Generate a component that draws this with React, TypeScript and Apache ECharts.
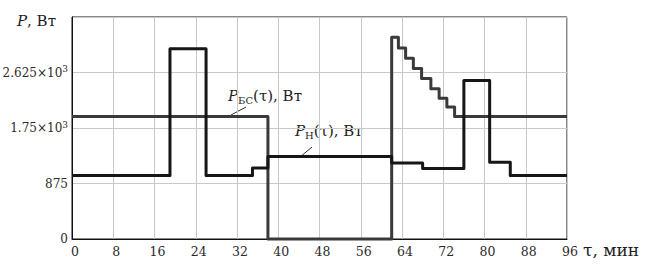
import React, { useEffect, useRef } from 'react';
import * as echarts from 'echarts';

// time, min
const xTicks = [0, 8, 16, 24, 32, 40, 48, 56, 64, 72, 80, 88, 96];
const yTickValues = [0, 875, 1750, 2625, 3500];
const yTickLabels = ['0', '875', '1.75×10{s|3}', '2.625×10{s|3}', ''];

// P_БС(τ): step starts (min) and values (W)
const tauBS = [0, 38, 62, 63.3, 64.7, 66.2, 67.8, 69.6, 71.2, 72.7, 74.2, 96];
const pBS = [1930, 0, 3180, 3010, 2850, 2690, 2530, 2370, 2220, 2080, 1930, 1930];

// P_Н(τ): step starts (min) and values (W)
const tauH = [0, 19, 26, 35, 38, 62, 68, 76, 81, 85, 96];
const pH = [1000, 3000, 1000, 1120, 1300, 1200, 1110, 2500, 1210, 1000, 1000];

const FONT = 'DejaVu Serif';

export default function App() {
  const ref = useRef<HTMLDivElement>(null);
  useEffect(() => {
    const chart = echarts.init(ref.current!, null, { renderer: 'svg' });
    const txt = (size: number, italic = false) => ({
      fontFamily: FONT,
      fontSize: size,
      fontStyle: italic ? 'italic' : 'normal',
      fill: '#1e1e1e',
      color: '#1e1e1e',
    });
    chart.setOption({
      animation: false,
      backgroundColor: '#fff',
      textStyle: { fontFamily: FONT },
      grid: {
        left: 72,
        right: 84,
        top: 17,
        bottom: 30,
        containLabel: false,
        outerBoundsMode: 'none',
        show: true,
        borderColor: '#111',
        borderWidth: 1,
        backgroundColor: 'transparent',
      },
      xAxis: {
        type: 'value',
        min: 0,
        max: 96,
        interval: 8,
        axisLine: { show: true, onZero: false, lineStyle: { color: '#111', width: 1 } },
        axisTick: { show: false },
        splitLine: { show: true, lineStyle: { color: '#c8c8c8', width: 1 } },
        axisLabel: {
          fontFamily: FONT,
          fontSize: 12.5,
          color: '#2a2a2a',
          margin: 6,
          padding: [0, 0, 0, 6],
          formatter: (v: number) => (xTicks.includes(v) ? String(v) : ''),
        },
      },
      yAxis: {
        type: 'value',
        min: 0,
        max: 3500,
        interval: 875,
        axisLine: { show: true, lineStyle: { color: '#111', width: 1 } },
        axisTick: { show: false },
        splitLine: { show: true, lineStyle: { color: '#c8c8c8', width: 1 } },
        axisLabel: {
          fontFamily: FONT,
          fontSize: 12,
          color: '#2a2a2a',
          margin: 4,
          lineHeight: 16,
          formatter: (v: number) => {
            const i = yTickValues.indexOf(v);
            return i >= 0 ? yTickLabels[i] : '';
          },
          rich: {
            s: { fontFamily: FONT, fontSize: 9, color: '#2a2a2a', verticalAlign: 'top', lineHeight: 8 },
          },
        },
      },
      series: [
        {
          type: 'line',
          name: 'P_БС',
          step: 'end',
          symbol: 'none',
          clip: false,
          data: tauBS.map((t, i) => [t, pBS[i]]),
          lineStyle: { color: '#3a3a3a', width: 3, join: 'round' },
          z: 2,
        },
        {
          type: 'line',
          name: 'P_Н',
          step: 'end',
          symbol: 'none',
          clip: false,
          data: tauH.map((t, i) => [t, pH[i]]),
          lineStyle: { color: '#161616', width: 3, join: 'round' },
          z: 3,
        },
      ],
      graphic: [
        {
          type: 'text',
          x: 17,
          y: 21,
          style: {
            text: '{i|P}{n|, Вт}',
            verticalAlign: 'middle',
            rich: { i: txt(15, true), n: txt(15) },
          },
        },
        {
          type: 'text',
          x: 583,
          y: 250,
          style: {
            text: 'τ, мин',
            verticalAlign: 'middle',
            ...txt(17),
          },
        },
        {
          type: 'text',
          x: 228,
          y: 96,
          style: {
            text: '{i|P}{b|БС}{n|(τ), Вт}',
            verticalAlign: 'middle',
            rich: {
              i: { ...txt(15, true), lineHeight: 18 },
              b: { ...txt(10), verticalAlign: 'bottom', lineHeight: 12 },
              n: { ...txt(15), lineHeight: 18 },
            },
          },
        },
        {
          type: 'text',
          x: 295,
          y: 131,
          style: {
            text: '{i|P}{b|Н}{n|(τ), Вт}',
            verticalAlign: 'middle',
            rich: {
              i: { ...txt(15, true), lineHeight: 18 },
              b: { ...txt(10), verticalAlign: 'bottom', lineHeight: 12 },
              n: { ...txt(15), lineHeight: 18 },
            },
          },
        },
        {
          type: 'line',
          shape: { x1: 231, y1: 115, x2: 246, y2: 107 },
          style: { stroke: '#333', lineWidth: 1 },
        },
        {
          type: 'line',
          shape: { x1: 300, y1: 157, x2: 312, y2: 147 },
          style: { stroke: '#333', lineWidth: 1 },
        },
      ],
    });
    return () => chart.dispose();
  }, []);
  return (
    <div
      ref={ref}
      style={{ position: 'fixed', left: 0, top: 0, width: 651, height: 269, background: '#fff' }}
    />
  );
}
